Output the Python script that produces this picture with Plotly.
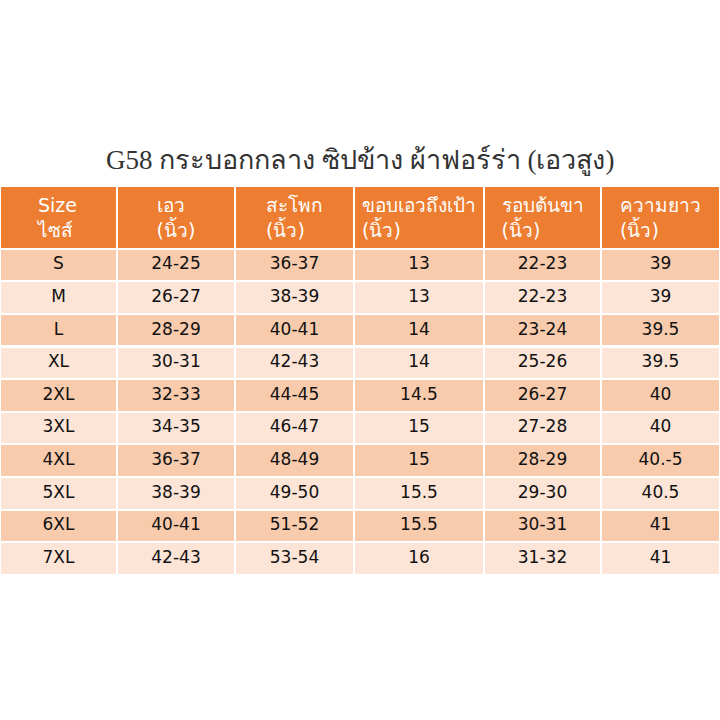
import plotly.graph_objects as go

# --- ข้อมูลตารางไซส์ ---
title = "G58 กระบอกกลาง ซิปข้าง ผ้าฟอร์ร่า (เอวสูง)"
headers = ["Size<br>ไซส์", "เอว<br>(นิ้ว)", "สะโพก<br>(นิ้ว)",
           "ขอบเอวถึงเป้า<br>(นิ้ว)", "รอบต้นขา<br>(นิ้ว)", "ความยาว<br>(นิ้ว)"]
sizes = ["S", "M", "L", "XL", "2XL", "3XL", "4XL", "5XL", "6XL", "7XL"]
waist = ["24-25", "26-27", "28-29", "30-31", "32-33", "34-35", "36-37", "38-39", "40-41", "42-43"]
hip = ["36-37", "38-39", "40-41", "42-43", "44-45", "46-47", "48-49", "49-50", "51-52", "53-54"]
rise = ["13", "13", "14", "14", "14.5", "15", "15", "15.5", "15.5", "16"]
thigh = ["22-23", "22-23", "23-24", "25-26", "26-27", "27-28", "28-29", "29-30", "30-31", "31-32"]
length = ["39", "39", "39.5", "39.5", "40", "40", "40.-5", "40.5", "41", "41"]

# --- สีแถวสลับ ---
row_colors = ["#F8CBAD" if i % 2 == 0 else "#FCE4D6" for i in range(len(sizes))]

font_main = "'DejaVu Sans', Tahoma, 'Noto Sans', sans-serif"

fig = go.Figure()

fig.add_trace(go.Table(
    domain=dict(x=[0, 1], y=[0, 1 - 186 / 720]),
    columnwidth=[117, 118, 119, 130, 117, 119],
    header=dict(
        values=headers,
        fill_color="#ED7D31",
        line=dict(color="white", width=2),
        align="center",
        height=58,
        font=dict(family=font_main, size=19, color="white"),
    ),
    cells=dict(
        values=[sizes, waist, hip, rise, thigh, length],
        fill_color=[row_colors] * 6,
        line=dict(color="white", width=2),
        align="center",
        height=32.6,
        font=dict(family=font_main, size=17, color="#111111"),
    ),
))

fig.add_annotation(
    text=title,
    x=0.5, y=1 - 160 / 720,
    xref="paper", yref="paper",
    xanchor="center", yanchor="middle",
    showarrow=False,
    font=dict(family="'Liberation Serif', 'Noto Serif', serif", size=27, color="#333333"),
)

fig.update_layout(
    width=720, height=720,
    margin=dict(l=0, r=0, t=0, b=0),
    paper_bgcolor="white",
    plot_bgcolor="white",
)

fig.write_html("out.html", config={"displayModeBar": False},
               post_script="document.body.style.margin='0';")
